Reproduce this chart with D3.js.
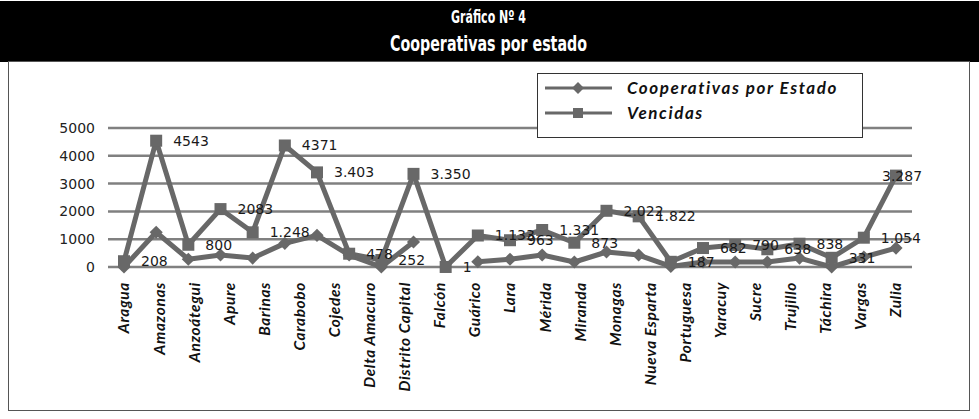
<!DOCTYPE html>
<html>
<head>
<meta charset="utf-8">
<script src="https://cdn.jsdelivr.net/npm/d3@7"></script>
<style>
  body { margin: 0; background: #fff; }
</style>
</head>
<body>
<div id="chart"></div>
<script>
// axis categories (23 names printed under the axis)
const states = ['Aragua', 'Amazonas', 'Anzoátegui', 'Apure', 'Barinas', 'Carabobo', 'Cojedes',
  'Delta Amacuro', 'Distrito Capital', 'Falcón', 'Guárico', 'Lara', 'Mérida', 'Miranda',
  'Monagas', 'Nueva Esparta', 'Portuguesa', 'Yaracuy', 'Sucre', 'Trujillo', 'Táchira',
  'Vargas', 'Zulia'];

// the plotted series have 25 points each (as in the original picture)
const cooperativas = [0, 1250, 280, 430, 320, 850, 1140, 430, 0, 900, null, 190, 280, 430,
  180, 540, 430, 20, 180, 180, 180, 320, 0, 360, 680];
const vencidas = [208, 4543, 800, 2083, 1248, 4371, 3403, 478, 252, 3350, 1, 1133, 963, 1331,
  873, 2022, 1822, 187, 682, 790, 638, 838, 331, 1054, 3287];
const vencidasLabels = ['208', '4543', '800', '2083', '1.248', '4371', '3.403', '478', '252',
  '3.350', '1', '1.133', '963', '1.331', '873', '2.022', '1.822', '187', '682', '790', '638',
  '838', '331', '1.054', '3.287'];

const yTicks = [0, 1000, 2000, 3000, 4000, 5000];
const seriesNames = ['Cooperativas por Estado', 'Vencidas'];

const width = 979;
const height = 419;
const lineColor = '#686868';

const svg = d3.select('#chart')
  .append('svg')
  .attr('width', width)
  .attr('height', height);

// title band
svg.append('rect')
  .attr('x', 0).attr('y', 1)
  .attr('width', width).attr('height', 61)
  .attr('fill', '#000');

// condensed heavy title, squeezed horizontally
const titleFont = '"DejaVu Sans Condensed", "DejaVu Sans", sans-serif';
svg.append('text')
  .attr('transform', `translate(${width / 2 - 1},23) scale(0.72,1)`)
  .attr('text-anchor', 'middle')
  .attr('fill', '#fff')
  .attr('font-family', titleFont)
  .attr('font-weight', 'bold')
  .attr('font-size', 17)
  .text('Gráfico Nº 4');
svg.append('text')
  .attr('transform', `translate(${width / 2 - 1},51) scale(0.72,1)`)
  .attr('text-anchor', 'middle')
  .attr('fill', '#fff')
  .attr('font-family', titleFont)
  .attr('font-weight', 'bold')
  .attr('font-size', 22)
  .text('Cooperativas por estado');

// frame
svg.append('rect')
  .attr('x', 8.5).attr('y', 61.5)
  .attr('width', 961).attr('height', 349)
  .attr('fill', 'none')
  .attr('stroke', '#555')
  .attr('stroke-width', 1);

// scales
const y = d3.scaleLinear().domain([0, 5000]).range([267, 128]);
const xPts = d3.scalePoint().domain(d3.range(vencidas.length)).range([124, 896]);
const xCat = d3.scalePoint().domain(states).range([124, 896]);

// gridlines
svg.append('g')
  .selectAll('line')
  .data(yTicks)
  .join('line')
  .attr('x1', 108).attr('x2', 912)
  .attr('y1', d => y(d)).attr('y2', d => y(d))
  .attr('stroke', '#808080')
  .attr('stroke-width', 2.5);

// y axis labels
const yAxis = svg.append('g')
  .attr('transform', 'translate(108,0)')
  .call(d3.axisLeft(y).tickValues(yTicks).tickSize(0).tickPadding(13).tickFormat(d3.format('d')));
yAxis.select('.domain').remove();
yAxis.selectAll('text')
  .attr('font-family', '"DejaVu Sans", sans-serif')
  .attr('font-size', 14)
  .attr('fill', '#222');

// x axis labels
svg.append('g')
  .selectAll('text')
  .data(states)
  .join('text')
  .attr('transform', d => `translate(${xCat(d)},282) rotate(-90)`)
  .attr('text-anchor', 'end')
  .attr('dy', '0.35em')
  .attr('font-family', 'Lato, sans-serif')
  .attr('font-style', 'italic')
  .attr('font-weight', 'bold')
  .attr('font-size', 15.5)
  .attr('letter-spacing', 0.6)
  .attr('fill', '#111')
  .text(d => d);

// lines
const line = d3.line()
  .defined(d => d != null)
  .x((d, i) => xPts(i))
  .y(d => y(d));

svg.append('path')
  .datum(cooperativas)
  .attr('d', line)
  .attr('fill', 'none')
  .attr('stroke', lineColor)
  .attr('stroke-width', 5)
  .attr('stroke-linejoin', 'round');

svg.append('path')
  .datum(vencidas)
  .attr('d', line)
  .attr('fill', 'none')
  .attr('stroke', lineColor)
  .attr('stroke-width', 5)
  .attr('stroke-linejoin', 'round');

// markers
const diamond = d3.symbol().type(d3.symbolDiamond2).size(110);
svg.append('g')
  .selectAll('path')
  .data(cooperativas.map((v, i) => ({ v, i })).filter(d => d.v != null))
  .join('path')
  .attr('transform', d => `translate(${xPts(d.i)},${y(d.v)})`)
  .attr('d', diamond)
  .attr('fill', lineColor);

svg.append('g')
  .selectAll('rect')
  .data(vencidas)
  .join('rect')
  .attr('x', (d, i) => xPts(i) - 6)
  .attr('y', d => y(d) - 6)
  .attr('width', 12).attr('height', 12)
  .attr('fill', lineColor);

// data labels (right of each square)
svg.append('g')
  .selectAll('text')
  .data(vencidas)
  .join('text')
  .attr('x', (d, i) => Math.min(xPts(i) + 17, 882))
  .attr('y', d => y(d))
  .attr('dy', '0.35em')
  .attr('font-family', '"DejaVu Sans", sans-serif')
  .attr('font-size', 14)
  .attr('fill', '#1a1a1a')
  .text((d, i) => vencidasLabels[i]);

// legend
const legend = svg.append('g');
legend.append('rect')
  .attr('x', 537.5).attr('y', 73.5)
  .attr('width', 325).attr('height', 64)
  .attr('fill', '#fff')
  .attr('stroke', '#333')
  .attr('stroke-width', 1);

const legendItems = legend.selectAll('g')
  .data(seriesNames)
  .join('g')
  .attr('transform', (d, i) => `translate(0,${88 + i * 25})`);

legendItems.append('line')
  .attr('x1', 545).attr('x2', 612)
  .attr('stroke', lineColor)
  .attr('stroke-width', 3);

legendItems.each(function (d, i) {
  const g = d3.select(this);
  if (i === 0) {
    g.append('path')
      .attr('transform', 'translate(578,0)')
      .attr('d', d3.symbol().type(d3.symbolDiamond2).size(90))
      .attr('fill', lineColor);
  } else {
    g.append('rect')
      .attr('x', 573).attr('y', -5)
      .attr('width', 10).attr('height', 10)
      .attr('fill', lineColor);
  }
});

legendItems.append('text')
  .attr('x', 627)
  .attr('dy', '0.35em')
  .attr('font-family', 'Lato, sans-serif')
  .attr('font-style', 'italic')
  .attr('font-weight', 'bold')
  .attr('font-size', 17)
  .attr('letter-spacing', 1.6)
  .attr('fill', '#111')
  .text(d => d);
</script>
</body>
</html>
